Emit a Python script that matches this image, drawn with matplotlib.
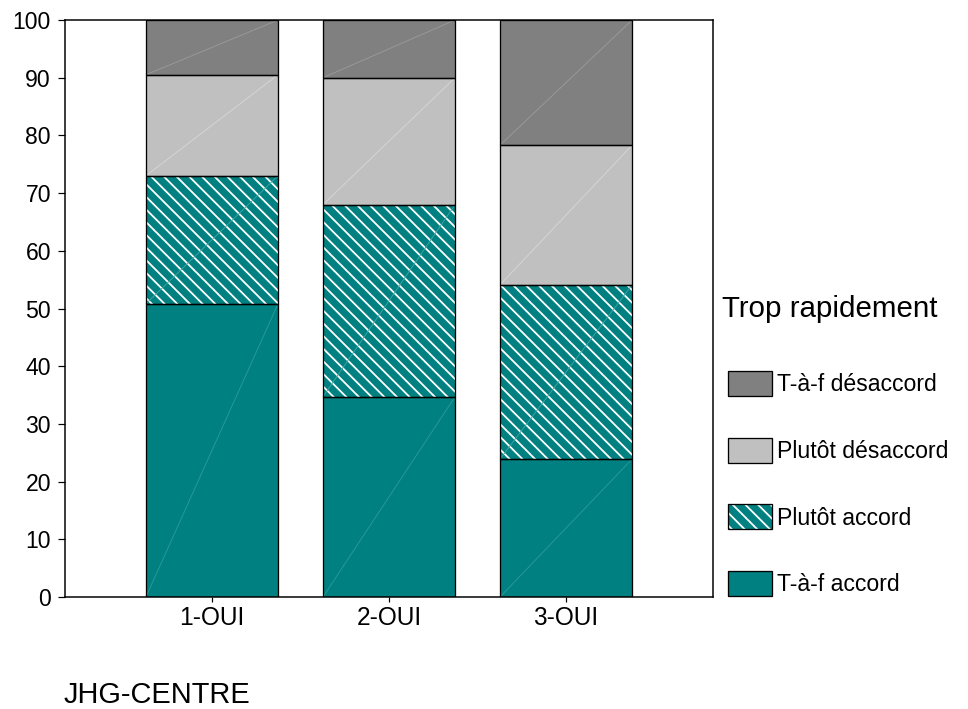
import numpy as np
import matplotlib
matplotlib.use('Agg')
import matplotlib.pyplot as plt
from matplotlib.patches import Patch

# work at 76 dpi so the '\\' hatch gets the same stripe spacing as the original
DPI = 76


def px(v):
    # pixel size -> points at this dpi
    return v * 72 / DPI


plt.rcParams['font.family'] = ['Liberation Sans', 'DejaVu Sans']
plt.rcParams['hatch.linewidth'] = px(1.8)

categories = ['1-OUI', '2-OUI', '3-OUI']
taf_accord = [50.8, 34.7, 23.9]
plutot_accord = [22.2, 33.3, 30.2]
plutot_desaccord = [17.5, 22.0, 24.2]
taf_desaccord = [9.5, 10.0, 21.7]

labels = ['T-à-f accord', 'Plutôt accord', 'Plutôt désaccord', 'T-à-f désaccord']
colors = ['#008080', '#008080', '#c0c0c0', '#808080']
hatches = [None, '\\\\', None, None]
streak = ['#2a9a9a', '#40a6a6', '#d6d6d6', '#9a9a9a']
series = [taf_accord, plutot_accord, plutot_desaccord, taf_desaccord]

fig = plt.figure(figsize=(968 / DPI, 709 / DPI), dpi=DPI)
ax = fig.add_axes([65 / 968, (709 - 597) / 709, (713 - 65) / 968, (597 - 20) / 709])

x = np.arange(len(categories))
width = 0.746
bottom = np.zeros(len(categories))
handles = []
for vals, lab, col, h, sc in zip(series, labels, colors, hatches, streak):
    vals = np.array(vals)
    ax.bar(x, vals, width, bottom=bottom, color=col,
           edgecolor='white' if h else col, hatch=h, linewidth=0, zorder=2)
    # faint diagonal streak seen in every segment
    for xi, b, v in zip(x, bottom, vals):
        ax.plot([xi - width / 2, xi + width / 2], [b, b + v], color=sc,
                lw=px(0.9), zorder=2.5, solid_capstyle='butt')
    ax.bar(x, vals, width, bottom=bottom, facecolor='none',
           edgecolor='black', linewidth=px(1.3), zorder=3)
    if h:
        handles.append((Patch(facecolor=col, edgecolor='white', hatch=h, lw=0),
                        Patch(facecolor='none', edgecolor='black', lw=px(1.3))))
    else:
        handles.append(Patch(facecolor=col, edgecolor='black', lw=px(1.3)))
    bottom += vals

ax.set_xlim(-0.83, 2.83)
ax.set_ylim(0, 100)
ax.set_yticks(np.arange(0, 101, 10))
ax.set_xticks(x)
ax.set_xticklabels(categories)
for s in ax.spines.values():
    s.set_linewidth(px(1.5))
ax.tick_params(axis='y', direction='out', length=px(7), width=px(1.2),
               labelsize=px(23), pad=px(7))
ax.tick_params(axis='x', direction='out', length=px(5), width=px(1.2),
               labelsize=px(24.5), pad=px(4))

# legend (top entry = last series)
fig.text(722 / 968, 1 - 317 / 709, 'Trop rapidement', fontsize=px(29.5),
         ha='left', va='baseline')
fig.legend(handles[::-1], labels[::-1], loc='upper left',
           bbox_to_anchor=(728 / 968, 1 - 371 / 709), frameon=False,
           fontsize=px(23), handlelength=1.92, handleheight=1.3,
           handletextpad=0.22, labelspacing=1.8, borderpad=0,
           borderaxespad=0)

fig.text(64 / 968, 1 - 703 / 709, 'JHG-CENTRE', fontsize=px(29),
         ha='left', va='baseline')

fig.savefig('out.png', dpi=DPI)
